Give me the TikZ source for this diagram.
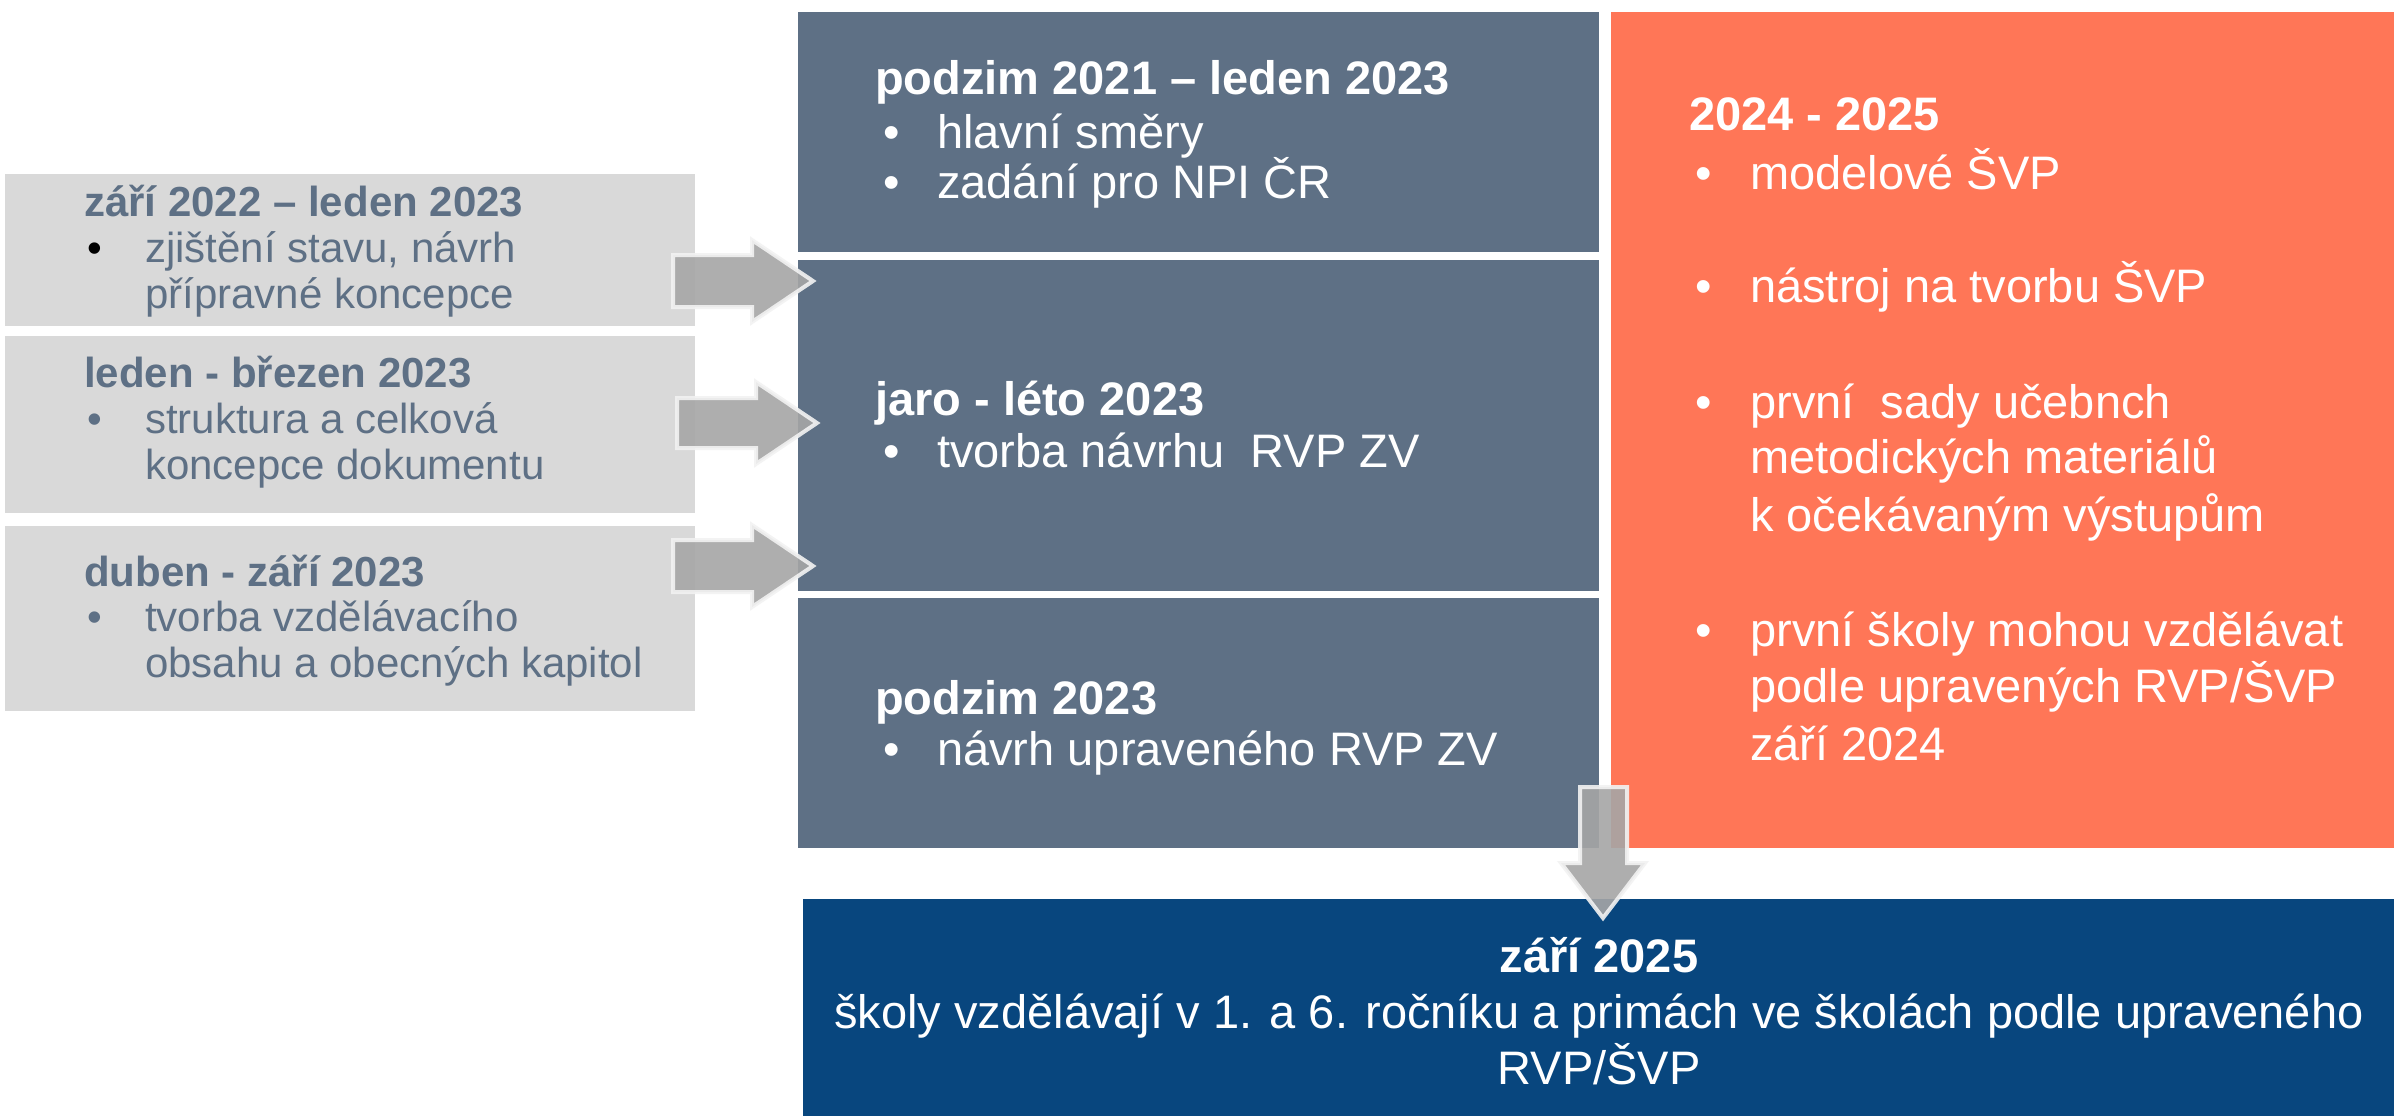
\documentclass[tikz,border=0pt]{standalone}
\usepackage{fontspec}
\setmainfont{Liberation Sans}
\definecolor{slate}{HTML}{5E7085}
\definecolor{coral}{HTML}{FF7657}
\definecolor{navy}{HTML}{08467E}
\definecolor{lgray}{HTML}{D9D9D9}
\definecolor{arrowgray}{HTML}{A6A6A6}
\definecolor{arrowedge}{HTML}{F2F2F2}
\tikzset{
  slatebox/.style={fill=slate},
  lefttxt/.style={anchor=base west, inner sep=0pt, text=slate, font=\fontsize{42}{46}\selectfont},
  lefthead/.style={lefttxt, font=\fontsize{42}{46}\selectfont\bfseries},
  whitetxt/.style={anchor=base west, inner sep=0pt, text=white, font=\fontsize{47}{52}\selectfont},
  whitehead/.style={whitetxt, font=\fontsize{47}{52}\selectfont\bfseries},
  navytxt/.style={anchor=base, inner sep=0pt, text=white, font=\fontsize{47}{52}\selectfont},
  blockarrow/.style={fill=arrowgray, fill opacity=0.9, draw=arrowedge, draw opacity=0.9, line width=4pt, line join=miter}
}
\begin{document}
\begin{tikzpicture}[x=1pt,y=-1pt]
\useasboundingbox (0,0) rectangle (2394,1116);
\fill[white] (0,0) rectangle (2394,1116);
% left gray boxes
\fill[lgray] (5,174) rectangle (695,326);
\fill[lgray] (5,336) rectangle (695,513);
\fill[lgray] (5,526) rectangle (695,711);
% slate boxes
\fill[slate] (798,12) rectangle (1599,252);
\fill[slate] (798,260) rectangle (1599,591);
\fill[slate] (798,598) rectangle (1599,848);
% orange box
\fill[coral] (1611,12) rectangle (2394,848);
% navy box
\fill[navy] (803,899) rectangle (2394,1116);

% left texts
\node[lefthead] (l1h) at (84,216) {září 2022 – leden 2023};
\node[lefttxt, text=black] (l1b) at (87,262) {•};
\node[lefttxt] (l1a) at (145,262) {zjištění stavu, návrh};
\node[lefttxt] (l1c) at (145,308) {přípravné koncepce};
\node[lefthead] (l2h) at (84,387) {leden - březen 2023};
\node[lefttxt] (l2b) at (87,433) {•};
\node[lefttxt] (l2a) at (145,433) {struktura a celková};
\node[lefttxt] (l2c) at (145,479) {koncepce dokumentu};
\node[lefthead] (l3h) at (84,586) {duben - září 2023};
\node[lefttxt] (l3b) at (87,631) {•};
\node[lefttxt] (l3a) at (145,631) {tvorba vzdělávacího};
\node[lefttxt] (l3c) at (145,677) {obsahu a obecných kapitol};

% slate texts
\node[whitehead] (s1h) at (875,94) {podzim 2021 – leden 2023};
\node[whitetxt] (s1b1) at (883,148) {•};
\node[whitetxt] (s1a) at (937,148) {hlavní směry};
\node[whitetxt] (s1b2) at (883,198) {•};
\node[whitetxt] (s1c) at (937,198) {zadání pro NPI ČR};
\node[whitehead] (s2h) at (875,415) {jaro - léto 2023};
\node[whitetxt] (s2b) at (883,467) {•};
\node[whitetxt] (s2a) at (937,467) {tvorba návrhu\ \ RVP ZV};
\node[whitehead] (s3h) at (875,714) {podzim 2023};
\node[whitetxt] (s3b) at (883,765) {•};
\node[whitetxt] (s3a) at (937,765) {návrh upraveného RVP ZV};

% orange texts
\node[whitehead] (oh) at (1689,130) {2024 - 2025};
\node[whitetxt] (ob1) at (1695,189) {•};
\node[whitetxt] (o1) at (1750,189) {modelové ŠVP};
\node[whitetxt] (ob2) at (1695,302) {•};
\node[whitetxt] (o2) at (1750,302) {nástroj na tvorbu ŠVP};
\node[whitetxt] (ob3) at (1695,418) {•};
\node[whitetxt] (o3a) at (1750,418) {první\ \ sady učebnch};
\node[whitetxt] (o3b) at (1750,473) {metodických materiálů};
\node[whitetxt] (o3c) at (1750,531) {k očekávaným výstupům};
\node[whitetxt] (ob4) at (1695,646) {•};
\node[whitetxt] (o4a) at (1750,646) {první školy mohou vzdělávat};
\node[whitetxt] (o4b) at (1750,702) {podle upravených RVP/ŠVP};
\node[whitetxt] (o4c) at (1750,760) {září 2024};

% navy texts
\node[navytxt, font=\fontsize{47}{52}\selectfont\bfseries] (nh) at (1599,972) {září 2025};
\node[navytxt] (n1) at (1599,1028) {školy vzdělávají v 1. a 6. ročníku a primách ve školách podle upraveného};
\node[navytxt] (n2) at (1599,1084) {RVP/ŠVP};

% block arrows
\draw[blockarrow] (673,255) -- (752,255) -- (752,240) -- (813,281) -- (752,322) -- (752,307) -- (673,307) -- cycle;
\draw[blockarrow] (677,398) -- (756,398) -- (756,382) -- (817,423) -- (756,464) -- (756,448) -- (677,448) -- cycle;
\draw[blockarrow] (673,540) -- (752,540) -- (752,525) -- (813,566) -- (752,607) -- (752,592) -- (673,592) -- cycle;
\draw[blockarrow] (1580,787) -- (1627,787) -- (1627,863) -- (1645,863) -- (1603,918) -- (1561,863) -- (1580,863) -- cycle;
\end{tikzpicture}
\end{document}
